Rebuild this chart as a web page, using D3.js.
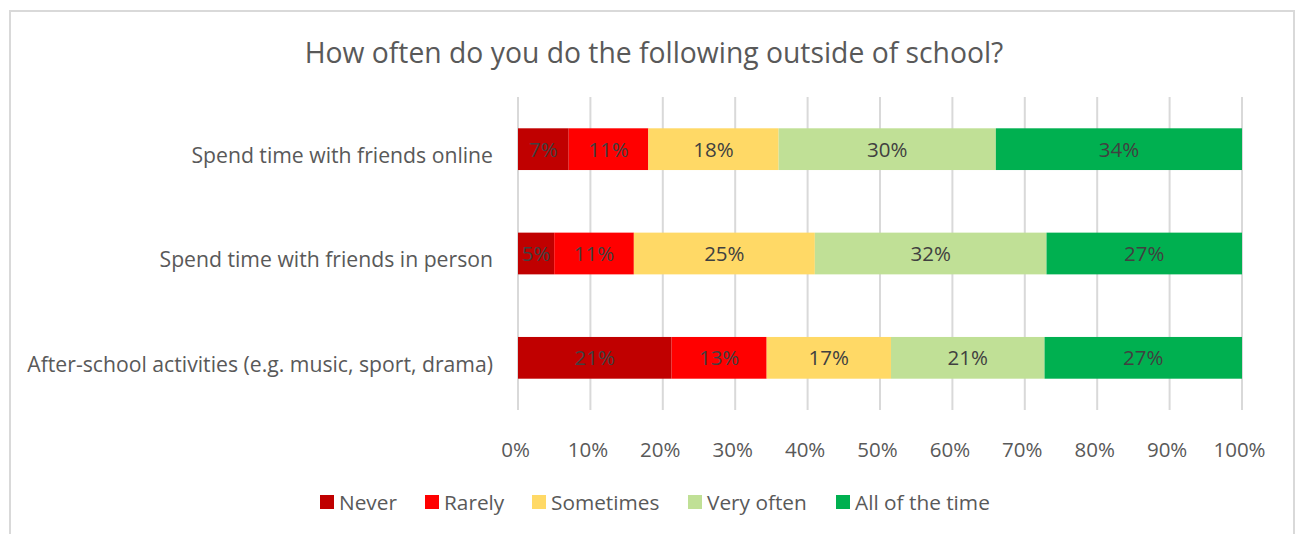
<!DOCTYPE html>
<html>
<head>
<meta charset="utf-8">
<script src="https://cdn.jsdelivr.net/npm/d3@7"></script>
<style>
  html, body { margin: 0; padding: 0; background: #fff; }
  svg { display: block; font-family: "Open Sans", "Noto Sans", sans-serif; }
</style>
</head>
<body>
<svg id="chart" width="1301" height="534"></svg>
<script>
// Survey rows, top to bottom
const categories = [
  "Spend time with friends online",
  "Spend time with friends in person",
  "After-school activities (e.g. music, sport, drama)"
];
// Response options, left to right
const responses = ["Never", "Rarely", "Sometimes", "Very often", "All of the time"];
// Percentage of students per response, one array per response (in category order)
const never       = [7, 5, 21];
const rarely      = [11, 11, 13];
const sometimes   = [18, 25, 17];
const veryOften   = [30, 32, 21];
const allOfTime   = [34, 27, 27];
const tickValues  = [0, 0.1, 0.2, 0.3, 0.4, 0.5, 0.6, 0.7, 0.8, 0.9, 1.0];
const colors      = ["#c00000", "#ff0000", "#ffd966", "#c0e096", "#00b050"];

const seriesValues = [never, rarely, sometimes, veryOften, allOfTime];
const rows = categories.map((c, i) => {
  const row = { category: c };
  responses.forEach((r, j) => { row[r] = seriesValues[j][i]; });
  return row;
});

const svg = d3.select("#chart");
const W = 1301, H = 534;
const FONT = '"Open Sans", "Noto Sans", sans-serif';

// chart frame
svg.append("rect")
  .attr("x", 10).attr("y", 11)
  .attr("width", 1284).attr("height", H)
  .attr("fill", "#fff").attr("stroke", "#d9d9d9").attr("stroke-width", 2);

// title
svg.append("text")
  .attr("x", 654).attr("y", 63)
  .attr("text-anchor", "middle")
  .attr("fill", "#595959")
  .style("font-size", "28.3px")
  .text("How often do you do the following outside of school?");

const plot = { left: 518, right: 1242, top: 97, bottom: 410 };

const x = d3.scaleLinear().domain([0, 1]).range([plot.left, plot.right]);
const y = d3.scaleBand().domain(categories).range([plot.top, plot.bottom]).paddingInner(0.6).paddingOuter(0.3);

// vertical gridlines
svg.append("g")
  .selectAll("line")
  .data(tickValues)
  .join("line")
  .attr("x1", d => x(d)).attr("x2", d => x(d))
  .attr("y1", plot.top).attr("y2", plot.bottom)
  .attr("stroke", "#d9d9d9").attr("stroke-width", 2);

// stacked (normalised to 100%) segments
const stack = d3.stack().keys(responses).offset(d3.stackOffsetExpand);
const series = stack(rows);

const groups = svg.append("g")
  .selectAll("g")
  .data(series)
  .join("g")
  .attr("fill", (d, i) => colors[i]);

groups.selectAll("rect")
  .data(d => d.map(s => ({ s, key: d.key })))
  .join("rect")
  .attr("x", d => x(d.s[0]))
  .attr("width", d => x(d.s[1]) - x(d.s[0]))
  .attr("y", d => y(d.s.data.category))
  .attr("height", y.bandwidth());

// value labels
groups.selectAll("text")
  .data(d => d.map(s => ({ s, key: d.key })))
  .join("text")
  .attr("x", d => (x(d.s[0]) + x(d.s[1])) / 2)
  .attr("y", d => y(d.s.data.category) + y.bandwidth() / 2)
  .attr("dy", "0.36em")
  .attr("text-anchor", "middle")
  .attr("fill", "#404040")
  .style("font-size", "20.5px")
  .text(d => d.s.data[d.key] + "%");

// category axis labels
const yAxis = d3.axisLeft(y).tickSize(0).tickPadding(25);
const yg = svg.append("g").attr("transform", `translate(${plot.left},0)`).call(yAxis);
yg.select(".domain").remove();
yg.selectAll("text").attr("fill", "#595959").attr("dy", "0.65em")
  .style("font-size", "21.2px").style("font-family", FONT);

// percentage axis labels
const xAxis = d3.axisBottom(x).tickValues(tickValues).tickFormat(d3.format(".0%")).tickSize(0).tickPadding(32);
const xg = svg.append("g").attr("transform", `translate(-3,${plot.bottom})`).call(xAxis);
xg.select(".domain").remove();
xg.selectAll("text").attr("fill", "#595959")
  .style("font-size", "20.5px").style("font-family", FONT);

// legend
const legendX = [320, 425, 532, 688, 836];
const legend = svg.append("g")
  .selectAll("g")
  .data(responses)
  .join("g")
  .attr("transform", (d, i) => `translate(${legendX[i]},502)`);
legend.append("rect")
  .attr("x", 0).attr("y", -7).attr("width", 14).attr("height", 14)
  .attr("fill", (d, i) => colors[i]);
legend.append("text")
  .attr("x", 19).attr("y", 0).attr("dy", "0.36em")
  .attr("fill", "#595959")
  .style("font-size", "20.8px")
  .text(d => d);
</script>
</body>
</html>
